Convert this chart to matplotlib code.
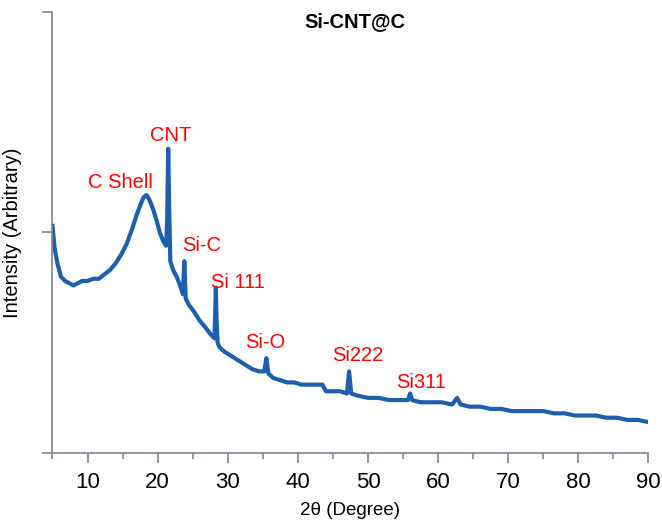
import matplotlib.pyplot as plt

# XRD trace (2theta, intensity in arbitrary units 0..2)
two_theta = [5.0, 5.3, 5.7, 6.2, 6.8, 7.4, 8.0, 8.6, 9.2, 10.0, 10.8, 11.6, 12.4, 13.2,
             14.0, 14.8, 15.6, 16.4, 17.0, 17.6, 18.0, 18.4, 18.8, 19.3, 19.8, 20.3,
             20.8, 21.2, 21.35, 21.5, 21.65, 21.8, 22.2, 22.7, 23.2, 23.6, 23.8, 24.0,
             24.5, 25.2, 26.0, 26.8, 27.5, 28.1, 28.3, 28.4, 28.55, 28.8, 29.5, 30.5,
             31.5, 32.5, 33.5, 34.5, 35.2, 35.5, 35.8, 36.5, 37.5, 38.5, 39.5, 40.5,
             41.5, 42.5, 43.5, 44.0, 45.0, 46.0, 47.0, 47.3, 47.6, 48.5, 50.0, 51.5,
             53.0, 54.5, 55.7, 56.0, 56.3, 57.5, 59.0, 60.5, 62.0, 62.7, 63.2, 64.5,
             66.0, 67.5, 69.0, 70.5, 72.0, 73.5, 75.0, 76.5, 78.0, 79.5, 81.0, 82.5,
             84.0, 85.5, 87.0, 88.5, 90.0]
intensity = [1.03, 0.93, 0.86, 0.80, 0.78, 0.77, 0.76, 0.77, 0.78, 0.78, 0.79, 0.79, 0.81, 0.83,
             0.86, 0.90, 0.95, 1.02, 1.08, 1.13, 1.16, 1.17, 1.15, 1.11, 1.06, 1.00,
             0.96, 0.94, 1.05, 1.38, 1.10, 0.87, 0.83, 0.80, 0.76, 0.72, 0.87, 0.70,
             0.67, 0.64, 0.60, 0.57, 0.54, 0.52, 0.75, 0.60, 0.50, 0.48, 0.46, 0.44,
             0.42, 0.40, 0.38, 0.37, 0.37, 0.43, 0.36, 0.34, 0.33, 0.32, 0.32, 0.31,
             0.31, 0.31, 0.31, 0.28, 0.28, 0.28, 0.27, 0.37, 0.27, 0.26, 0.25, 0.25,
             0.24, 0.24, 0.24, 0.27, 0.24, 0.23, 0.23, 0.23, 0.22, 0.25, 0.22, 0.21,
             0.21, 0.20, 0.20, 0.19, 0.19, 0.19, 0.19, 0.18, 0.18, 0.17, 0.17, 0.17,
             0.16, 0.16, 0.15, 0.15, 0.14]

peak_labels = ['C Shell', 'CNT', 'Si-C', 'Si 111', 'Si-O', 'Si222', 'Si311']
label_x = [14.7, 21.8, 26.3, 31.5, 35.4, 48.5, 57.6]
label_y = [1.225, 1.44, 0.94, 0.775, 0.50, 0.44, 0.32]

plt.rcParams['font.family'] = ['Liberation Sans', 'DejaVu Sans']

fig = plt.figure(figsize=(6.62, 5.24), dpi=100)
ax = fig.add_axes([0.0793, 0.1355, 0.9003, 0.8416])

ax.plot(two_theta, intensity, color='#1d5fae', lw=3.0, solid_joinstyle='round')

for lab, lx, ly in zip(peak_labels, label_x, label_y):
    ax.text(lx, ly, lab, color='red', fontsize=14.5, ha='center', va='center')

ax.set_xlim(5, 90)
ax.set_ylim(0, 2)
ax.set_xticks(range(10, 91, 10))
ax.set_xticks(range(5, 91, 5), minor=True)
ax.set_yticks([0, 1, 2])
ax.set_yticklabels([])

spine_col = '#7d8496'
for s in ['top', 'right']:
    ax.spines[s].set_visible(False)
for s in ['left', 'bottom']:
    ax.spines[s].set_color(spine_col)
    ax.spines[s].set_linewidth(1.2)
ax.tick_params(axis='both', which='major', direction='out', length=7, width=1.2,
               color=spine_col, labelsize=16)
ax.tick_params(axis='x', which='minor', direction='out', length=4, width=1.2, color=spine_col)
ax.tick_params(axis='x', pad=7)

ax.set_xlabel('2\u03b8 (Degree)', fontsize=13.5)
ax.xaxis.set_label_coords(0.5, -0.11)
ax.set_ylabel('Intensity (Arbitrary)', fontsize=14.5)
ax.yaxis.set_label_coords(-0.052, 0.5)

fig.text(0.536, 0.958, 'Si-CNT@C', fontsize=14.5, fontweight='bold', ha='center', va='center')

fig.savefig('out.png', dpi=100)
